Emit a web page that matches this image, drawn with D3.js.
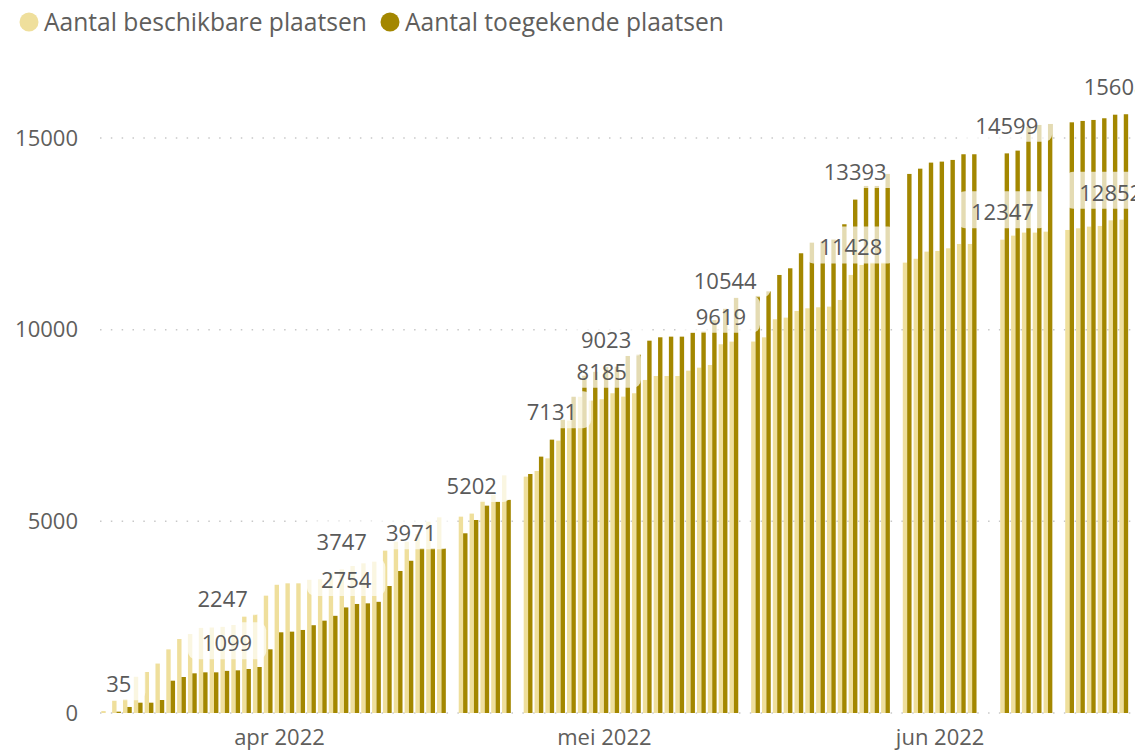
<!DOCTYPE html>
<html>
<head>
<meta charset="utf-8">
<script src="https://cdn.jsdelivr.net/npm/d3@7"></script>
<style>
  body { margin: 0; background: #fff; }
  svg { display: block; font-family: "Open Sans", sans-serif; }
</style>
</head>
<body>
<svg id="chart" width="1135" height="751"></svg>
<script>
// days with data (weekend / holiday gaps are simply absent)
const dates = [
  "2022-03-16", "2022-03-17", "2022-03-18", "2022-03-19", "2022-03-20", "2022-03-21", "2022-03-22", "2022-03-23",
  "2022-03-24", "2022-03-25", "2022-03-26", "2022-03-27", "2022-03-28", "2022-03-29", "2022-03-30", "2022-03-31",
  "2022-04-01", "2022-04-02", "2022-04-03", "2022-04-04", "2022-04-05", "2022-04-06", "2022-04-07", "2022-04-08",
  "2022-04-09", "2022-04-10", "2022-04-11", "2022-04-12", "2022-04-13", "2022-04-14", "2022-04-15", "2022-04-16",
  "2022-04-18", "2022-04-19", "2022-04-20", "2022-04-21", "2022-04-22",
  "2022-04-24", "2022-04-25", "2022-04-26", "2022-04-27", "2022-04-28", "2022-04-29", "2022-04-30",
  "2022-05-01", "2022-05-02", "2022-05-03", "2022-05-04", "2022-05-05", "2022-05-06", "2022-05-07", "2022-05-08",
  "2022-05-09", "2022-05-10", "2022-05-11", "2022-05-12", "2022-05-13",
  "2022-05-15", "2022-05-16", "2022-05-17", "2022-05-18", "2022-05-19", "2022-05-20", "2022-05-21", "2022-05-22",
  "2022-05-23", "2022-05-24", "2022-05-25", "2022-05-26", "2022-05-27",
  "2022-05-29", "2022-05-30", "2022-05-31", "2022-06-01", "2022-06-02", "2022-06-03", "2022-06-04",
  "2022-06-07", "2022-06-08", "2022-06-09", "2022-06-10", "2022-06-11",
  "2022-06-13", "2022-06-14", "2022-06-15", "2022-06-16", "2022-06-17", "2022-06-18"
];

const beschikbaar = [
  50, 320, 360, 945, 1070, 1290, 1660, 1930,
  2060, 2220, 2230, 2247, 2296, 2513, 2574, 3061,
  3345, 3383, 3383, 3475, 3490, 3645, 3747, 3835,
  3905, 3948, 4235, 4470, 4470, 4670, 4990, 5105,
  5122, 5202, 5539, 5690, 6200,
  6166, 6314, 6644, 7105, 7627, 8250, 8150,
  8185, 8341, 8253, 8341, 8688, 8792, 8792, 8792,
  8931, 9009, 9079, 9619, 9688,
  9690, 9800, 10271, 10314, 10488, 10558, 10584, 10601,
  10775, 11428, 11688, 11749, 11749,
  11749, 11850, 12036, 12053, 12123, 12236, 12236,
  12347, 12453, 12532, 12532, 12557,
  12601, 12645, 12688, 12706, 12852, 12870
];

const toegekend = [
  0, 35, 157, 269, 269, 339, 843, 939,
  1035, 1061, 1061, 1099, 1113, 1148, 1200, 1661,
  2105, 2122, 2166, 2290, 2409, 2535, 2754, 2844,
  2861, 2900, 3313, 3705, 3971, 4296, 4296, 4296,
  4688, 5035, 5409, 5513, 5560,
  6235, 6688, 7131, 7650, 8250, 8800, 8900,
  9023, 9035, 9314, 9360, 9713, 9801, 9818, 9818,
  9923, 9950, 10250, 10544, 10830,
  10880, 11000, 11427, 11601, 11993, 12270, 12300, 12350,
  12750, 13393, 13750, 13750, 14063,
  14063, 14200, 14358, 14384, 14428, 14576, 14576,
  14599, 14671, 15296, 15340, 15366,
  15409, 15445, 15471, 15515, 15608, 15620
];

const seriesNames = ["Aantal beschikbare plaatsen", "Aantal toegekende plaatsen"];
const seriesColors = ["#EFDF9C", "#A38700"];

// which bars carry a data label (0 = beschikbaar, 1 = toegekend)
const labelDates = [
  "2022-03-17", "2022-03-27", "2022-03-27", "2022-04-07", "2022-04-07", "2022-04-13", "2022-04-19",
  "2022-04-26", "2022-05-01", "2022-05-01", "2022-05-12", "2022-05-12", "2022-05-24", "2022-05-24",
  "2022-06-07", "2022-06-07", "2022-06-17", "2022-06-17"
];
const labelSeries = [1, 0, 1, 0, 1, 1, 0, 1, 0, 1, 0, 1, 0, 1, 0, 1, 0, 1];

const xTicks = ["2022-04-01", "2022-05-01", "2022-06-01"];
const yTicks = [0, 5000, 10000, 15000];
const monthNames = ["jan", "feb", "mrt", "apr", "mei", "jun", "jul", "aug", "sep", "okt", "nov", "dec"];

const svg = d3.select("#chart");
const parse = d3.utcParse("%Y-%m-%d");
const textColor = "#605E5C";

const data = dates.map((d, i) => ({
  date: parse(d),
  key: d,
  values: [beschikbaar[i], toegekend[i]]
}));

const x = d3.scaleUtc()
  .domain([parse("2022-03-16"), parse("2022-06-19")])
  .range([105.7, 1134.6]);

const dayW = x(parse("2022-03-17")) - x(parse("2022-03-16"));

const sub = d3.scaleBand()
  .domain([0, 1])
  .range([-dayW * 0.405, dayW * 0.405]);

const y = d3.scaleLinear()
  .domain([0, 16000])
  .range([713, 99.67]);

// gridlines
svg.append("g")
  .selectAll("line")
  .data(yTicks)
  .join("line")
  .attr("x1", 100)
  .attr("x2", 1135)
  .attr("y1", d => y(d))
  .attr("y2", d => y(d))
  .attr("stroke", "#C8C8C8")
  .attr("stroke-width", 1.5)
  .attr("stroke-dasharray", "1.5,9.33");

// y axis
const yAxisG = svg.append("g")
  .attr("transform", "translate(100,0)")
  .call(d3.axisLeft(y).tickValues(yTicks).tickSize(0).tickPadding(22).tickFormat(d3.format("d")));
yAxisG.select(".domain").remove();
yAxisG.selectAll("text")
  .attr("fill", textColor)
  .style("font-size", "22px")
  .style("font-family", "'Open Sans', sans-serif");

// x axis
const xAxisG = svg.append("g")
  .attr("transform", "translate(0,713)")
  .call(d3.axisBottom(x)
    .tickValues(xTicks.map(parse))
    .tickSize(0)
    .tickPadding(16)
    .tickFormat(d => monthNames[d.getUTCMonth()] + " " + d.getUTCFullYear()));
xAxisG.select(".domain").remove();
xAxisG.selectAll("text")
  .attr("fill", textColor)
  .style("font-size", "22px")
  .style("font-family", "'Open Sans', sans-serif");

// bars
const groups = svg.append("g")
  .selectAll("g")
  .data(data)
  .join("g")
  .attr("transform", d => `translate(${x(d.date)},0)`);

groups.selectAll("rect")
  .data(d => d.values.map((v, s) => ({ v, s })))
  .join("rect")
  .attr("x", d => sub(d.s))
  .attr("width", sub.bandwidth())
  .attr("y", d => y(d.v))
  .attr("height", d => y(0) - y(d.v))
  .attr("fill", d => seriesColors[d.s]);

// data labels with semi-transparent backgrounds
const boxG = svg.append("g");
const labelG = svg.append("g");

labelDates.forEach((ld, i) => {
  const s = labelSeries[i];
  const row = data.find(d => d.key === ld);
  const v = row.values[s];
  const cx = x(row.date) + sub(s) + sub.bandwidth() / 2;
  const base = y(v) - 19.5;

  const t = labelG.append("text")
    .attr("x", cx)
    .attr("y", base)
    .attr("text-anchor", "middle")
    .attr("fill", "#5A5A5A")
    .style("font-size", "22px")
    .text(v);

  const w = t.node().getComputedTextLength();
  boxG.append("rect")
    .attr("x", cx - w / 2 - 14)
    .attr("y", base - 29)
    .attr("width", w + 28)
    .attr("height", 37)
    .attr("rx", 8)
    .attr("fill", "#fff")
    .attr("opacity", 0.7);
});

// legend
const legendX = [29, 390];
const legend = svg.append("g")
  .selectAll("g")
  .data(seriesNames)
  .join("g")
  .attr("transform", (d, i) => `translate(${legendX[i]},22)`);

legend.append("circle")
  .attr("r", 9.5)
  .attr("fill", (d, i) => seriesColors[i]);

legend.append("text")
  .attr("x", 15)
  .attr("y", 8.5)
  .attr("fill", textColor)
  .style("font-size", "24.6px")
  .text(d => d);
</script>
</body>
</html>
